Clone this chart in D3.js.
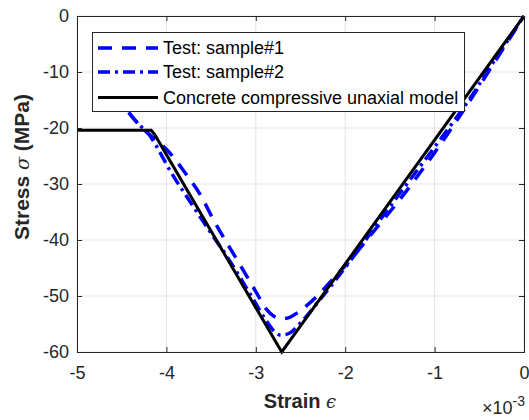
<!DOCTYPE html>
<html>
<head>
<meta charset="utf-8">
<script src="https://cdn.jsdelivr.net/npm/d3@7"></script>
<style>
  html, body { margin: 0; padding: 0; background: #fff; }
  svg { display: block; font-family: "Liberation Sans", Arial, sans-serif; }
</style>
</head>
<body>
<svg id="chart" width="529" height="420"></svg>
<script>
// ---- data (strain in units of 1e-3, stress in MPa) ----
const xTicks = [-5, -4, -3, -2, -1, 0];
const yTicks = [0, -10, -20, -30, -40, -50, -60];

const modelStrain = [-5, -4.17, -4.13, -2.71, 0];
const modelStress = [-20.4, -20.4, -21.2, -60, 0];

const s1Strain = [-4.6, -4.43, -4.3, -4.18, -4.1, -4.0, -3.8, -3.6, -3.48, -3.2, -3.0, -2.88, -2.8, -2.72, -2.62, -2.5, -2.3, -2.1, -2.0, -1.7, -1.4, -1.0, -0.6, -0.3, 0];
const s1Stress = [-14, -17.1, -19.5, -21.3, -22.3, -23.8, -27.8, -32.5, -36.2, -43.8, -49.2, -52.4, -53.6, -54.1, -53.8, -52.6, -49.8, -46.3, -44.6, -38.8, -33.0, -24.4, -15.0, -7.5, 0];

const s2Strain = [-4.6, -4.43, -4.3, -4.2, -4.12, -3.96, -3.75, -3.5, -3.3, -3.05, -2.9, -2.8, -2.72, -2.62, -2.5, -2.3, -2.1, -1.9, -1.6, -1.3, -1.0, -0.6, -0.3, 0];
const s2Stress = [-14, -17.1, -19.5, -21.0, -23.0, -27.6, -32.8, -38.8, -43.5, -50.0, -54.0, -56.2, -57.0, -56.6, -54.8, -51.0, -47.0, -42.8, -36.2, -29.8, -23.4, -14.6, -7.2, 0];

const legendLabels = ["Test: sample#1", "Test: sample#2", "Concrete compressive unaxial model"];

// ---- layout ----
const svg = d3.select("#chart");
const L = 77, R = 524, T = 16, B = 352;
const x = d3.scaleLinear().domain([-5, 0]).range([L, R]);
const y = d3.scaleLinear().domain([-60, 0]).range([B, T]);
const axisColor = "#262626";
const fs = 18;

// grid
const grid = svg.append("g");
grid.selectAll("line.gx").data(xTicks).join("line")
  .attr("x1", d => x(d)).attr("x2", d => x(d)).attr("y1", T).attr("y2", B)
  .attr("stroke", "#e3e3e3").attr("stroke-width", 1);
grid.selectAll("line.gy").data(yTicks).join("line")
  .attr("x1", L).attr("x2", R).attr("y1", d => y(d)).attr("y2", d => y(d))
  .attr("stroke", "#e3e3e3").attr("stroke-width", 1);

// data lines
const mk = (xs, ys) => xs.map((v, i) => [v, ys[i]]);
const line = d3.line().x(d => x(d[0])).y(d => y(d[1]));
const lineSmooth = d3.line().x(d => x(d[0])).y(d => y(d[1])).curve(d3.curveMonotoneX);

const plot = svg.append("g");
plot.append("path").datum(mk(s1Strain, s1Stress)).attr("d", lineSmooth)
  .attr("fill", "none").attr("stroke", "#0000ff").attr("stroke-width", 3.5)
  .attr("stroke-dasharray", "14,10");
plot.append("path").datum(mk(s2Strain, s2Stress)).attr("d", lineSmooth)
  .attr("fill", "none").attr("stroke", "#0000ff").attr("stroke-width", 3.5)
  .attr("stroke-dasharray", "12,5,3,5");
plot.append("path").datum(mk(modelStrain, modelStress)).attr("d", line)
  .attr("fill", "none").attr("stroke", "#000").attr("stroke-width", 3)
  .attr("stroke-linejoin", "miter");

// axes
const xAxisB = d3.axisBottom(x).tickValues(xTicks).tickSize(-5).tickPadding(14).tickFormat(d3.format("d"));
const xAxisT = d3.axisTop(x).tickValues(xTicks).tickSize(-5).tickFormat("");
const yAxisL = d3.axisLeft(y).tickValues(yTicks).tickSize(-5).tickPadding(8).tickFormat(d3.format("d"));
const yAxisR = d3.axisRight(y).tickValues(yTicks).tickSize(-5).tickFormat("");

function style(g) {
  g.select(".domain").attr("stroke", axisColor).attr("stroke-width", 1);
  g.selectAll(".tick line").attr("stroke", axisColor);
  g.selectAll(".tick text").attr("fill", axisColor).attr("font-size", fs)
    .attr("font-family", "Liberation Sans, Arial, sans-serif");
}
svg.append("g").attr("transform", `translate(0,${B})`).call(xAxisB).call(style)
  .selectAll(".tick text").text(d => String(d).replace("\u2212", "-"));
svg.append("g").attr("transform", `translate(0,${T})`).call(xAxisT).call(style);
svg.append("g").attr("transform", `translate(${L},0)`).call(yAxisL).call(style)
  .selectAll(".tick text").text(d => String(d).replace("\u2212", "-"));
svg.append("g").attr("transform", `translate(${R},0)`).call(yAxisR).call(style);

// axis labels
svg.append("text").attr("x", 300).attr("y", 408).attr("text-anchor", "middle")
  .attr("font-size", 20).attr("font-weight", "bold").attr("fill", axisColor)
  .html('Strain <tspan font-weight="normal" font-style="italic" font-family="DejaVu Serif, serif" font-size="18">ϵ</tspan>');
svg.append("text").attr("transform", "translate(29,167) rotate(-90)").attr("text-anchor", "middle")
  .attr("font-size", 21).attr("font-weight", "bold").attr("fill", axisColor)
  .html('Stress <tspan font-weight="normal" font-style="italic" font-family="DejaVu Serif, serif" font-size="19">σ</tspan> (MPa)');
svg.append("text").attr("x", 525).attr("y", 414).attr("text-anchor", "end")
  .attr("font-size", fs).attr("fill", axisColor)
  .html('×10<tspan dy="-8" font-size="14">-3</tspan>');

// legend
const lg = svg.append("g");
lg.append("rect").attr("x", 92.5).attr("y", 32.5).attr("width", 372).attr("height", 79)
  .attr("fill", "#fff").attr("stroke", axisColor).attr("stroke-width", 1);
const rowsY = [48, 72, 97.5];
const styles = [
  {c: "#0000ff", w: 3.5, d: "14,10"},
  {c: "#0000ff", w: 3.5, d: "12,5,3,5"},
  {c: "#000", w: 3, d: null}
];
legendLabels.forEach((lab, i) => {
  const ln = lg.append("line").attr("x1", 98).attr("x2", 158).attr("y1", rowsY[i]).attr("y2", rowsY[i])
    .attr("stroke", styles[i].c).attr("stroke-width", styles[i].w);
  if (styles[i].d) ln.attr("stroke-dasharray", styles[i].d);
  lg.append("text").attr("x", 163).attr("y", rowsY[i]).attr("dy", "0.35em")
    .attr("font-size", fs).attr("fill", "#000").text(lab);
});
</script>
</body>
</html>
